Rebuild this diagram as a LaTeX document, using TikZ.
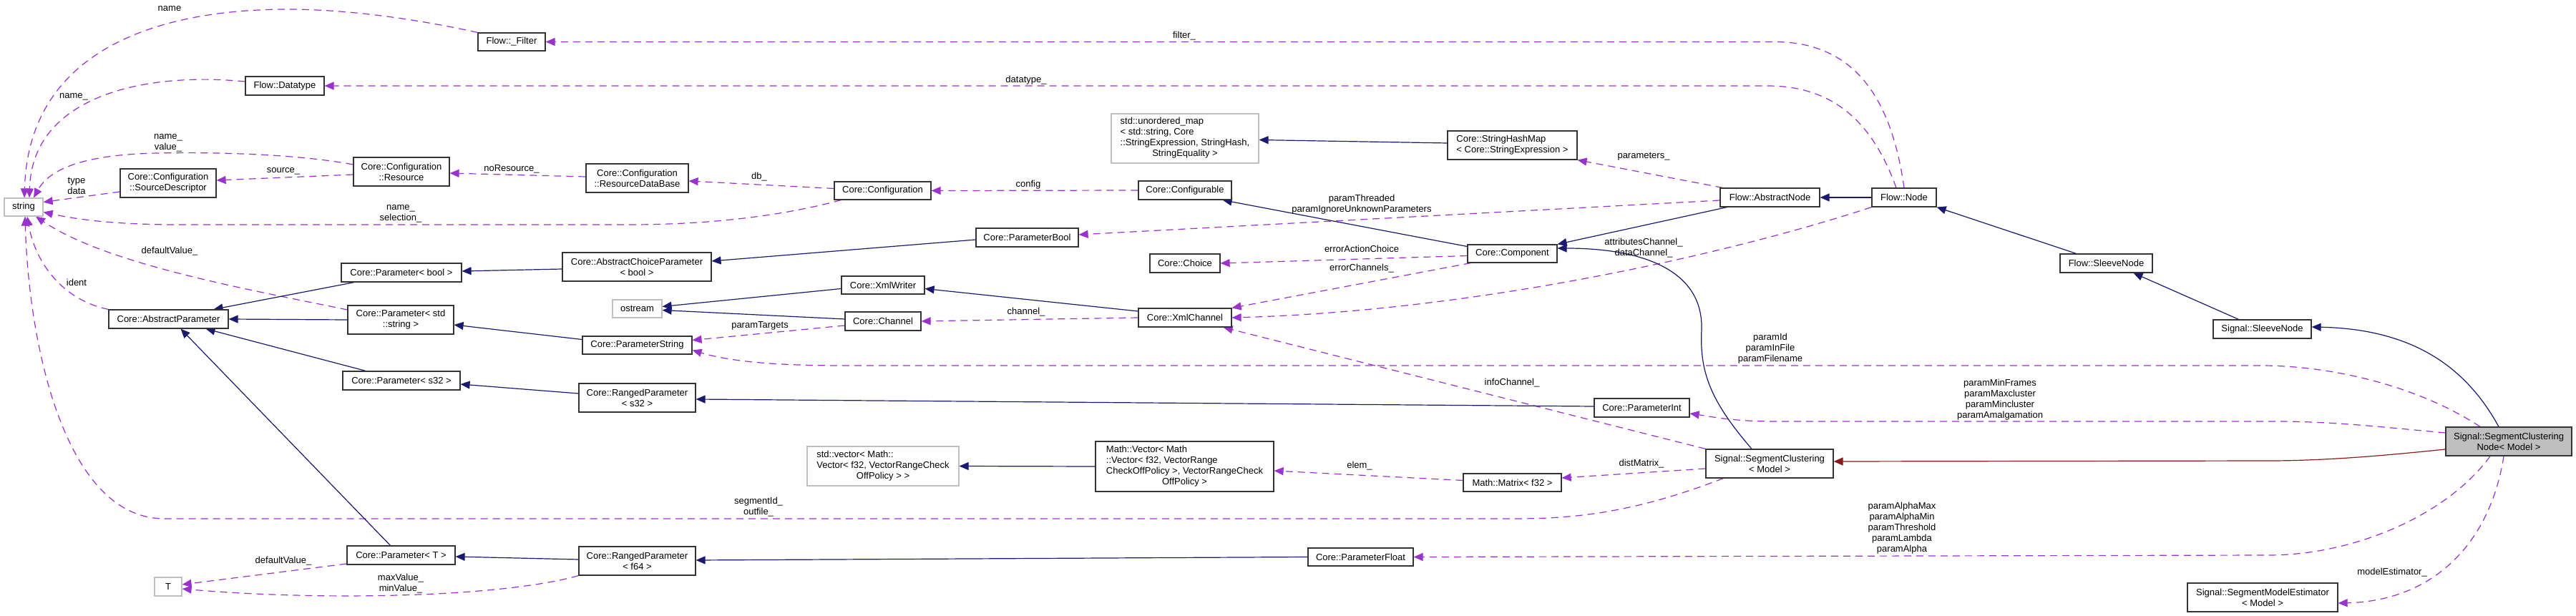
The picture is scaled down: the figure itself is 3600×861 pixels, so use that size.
\documentclass[tikz,border=0pt]{standalone}
\usepackage{fontspec}
\setmainfont{Liberation Sans}
\usetikzlibrary{arrows.meta}
\definecolor{navyc}{HTML}{191970}
\definecolor{orch}{HTML}{9A32CD}
\definecolor{fireb}{HTML}{8B1A1A}
\definecolor{lgray}{HTML}{BFBFBF}
\newcommand{\dfont}{\fontsize{13pt}{15pt}\selectfont}
\pgfdeclarelayer{bglayer}
\pgfdeclarelayer{edgelayer}
\pgfsetlayers{bglayer,edgelayer,main}
\tikzset{
  cbox/.style={rectangle, draw=black!80, line width=1.2pt, fill=white, inner sep=0pt, align=center, font=\dfont},
  gbox/.style={cbox, draw=lgray},
  sz/.style 2 args={minimum width=#1pt, minimum height=#2pt},
  inh/.style={draw=navyc, line width=1.2pt, -{Triangle[length=13pt,width=11pt]}},
  usedge/.style={draw=orch, line width=1.2pt, dash pattern=on 10pt off 7pt, -{Triangle[length=13pt,width=11pt]}},
  priv/.style={draw=fireb, line width=1.2pt, -{Triangle[length=13pt,width=11pt]}},
  lbl/.style={inner sep=0pt, align=center, font=\dfont},
}
\begin{document}
\begin{tikzpicture}[x=1pt,y=-1pt]
\begin{pgfonlayer}{bglayer}
\fill[white] (0,0) rectangle (3600,861);
\end{pgfonlayer}
\useasboundingbox (0,0) rectangle (3600,861);

% ---------------- nodes ----------------
\node[gbox, sz={54}{25}] (str) at (33,289.5) {string};
\node[cbox, sz={94}{25}] (filt) at (715,58.5) {Flow::\_Filter};
\node[cbox, sz={110}{26}] (dtype) at (398,120) {Flow::Datatype};
\node[cbox, sz={134}{40}] (res) at (561,240) {Core::Configuration\\::Resource};
\node[cbox, sz={134}{40}] (srcd) at (235,256) {Core::Configuration\\::SourceDescriptor};
\node[cbox, sz={143}{40}] (rdb) at (890.5,249) {Core::Configuration\\::ResourceDataBase};
\node[cbox, sz={135}{25}] (conf) at (1233.5,266.5) {Core::Configuration};
\node[cbox, sz={130}{26}] (cfgb) at (1656,266) {Core::Configurable};
\node[gbox, sz={206}{69}] (umap) at (1656,193.5) {\begin{tabular}{@{}l@{}}std::unordered\_map\\< std::string, Core\\::StringExpression, StringHash,\\\multicolumn{1}{@{}c@{}}{StringEquality >}\end{tabular}};
\node[cbox, sz={181}{40}, align=left] (shm) at (2113.5,203) {Core::StringHashMap\\< Core::StringExpression >};
\node[cbox, sz={139}{26}] (anode) at (2473.5,276) {Flow::AbstractNode};
\node[cbox, sz={90}{26}] (fnode) at (2661,276) {Flow::Node};
\node[cbox, sz={129}{26}] (fsleeve) at (2943.5,368) {Flow::SleeveNode};
\node[cbox, sz={137}{26}] (ssleeve) at (3161.5,460) {Signal::SleeveNode};
\node[cbox, sz={176}{40}, fill=lgray] (scn) at (3506,617) {Signal::SegmentClustering\\Node< Model >};
\node[cbox, sz={210}{40}] (sme) at (3162,835) {Signal::SegmentModelEstimator\\< Model >};
\node[cbox, sz={178}{40}] (sc) at (2473,648) {Signal::SegmentClustering\\< Model >};
\node[cbox, sz={137}{25}] (mtx) at (2113.5,674.5) {Math::Matrix< f32 >};
\node[cbox, sz={133}{26}] (pint) at (2294.5,570) {Core::ParameterInt};
\node[cbox, sz={147}{25}] (pfloat) at (1901.5,778.5) {Core::ParameterFloat};
\node[cbox, sz={125}{25}] (comp) at (2113.5,354.5) {Core::Component};
\node[cbox, sz={143}{26}] (pbool) at (1435.5,332) {Core::ParameterBool};
\node[cbox, sz={98}{26}] (choice) at (1656,368) {Core::Choice};
\node[cbox, sz={116}{25}] (xw) at (1234,398.5) {Core::XmlWriter};
\node[cbox, sz={130}{26}] (xc) at (1656,444) {Core::XmlChannel};
\node[cbox, sz={106}{26}] (chan) at (1234,449) {Core::Channel};
\node[gbox, sz={69}{25}] (ostr) at (890.5,431.5) {ostream};
\node[cbox, sz={208}{40}] (acp) at (890,373) {Core::AbstractChoiceParameter\\< bool >};
\node[cbox, sz={168}{26}] (pbt) at (561,381) {Core::Parameter< bool >};
\node[cbox, sz={148}{40}] (pss) at (560,447) {Core::Parameter< std\\::string >};
\node[cbox, sz={153}{25}] (pstring) at (890.5,482.5) {Core::ParameterString};
\node[cbox, sz={167}{26}] (absp) at (235.5,446) {Core::AbstractParameter};
\node[cbox, sz={164}{26}] (ps32) at (561,532) {Core::Parameter< s32 >};
\node[cbox, sz={163}{40}] (rp32) at (890.5,556) {Core::RangedParameter\\< s32 >};
\node[gbox, sz={212}{55}] (svec) at (1234,651.5) {\begin{tabular}{@{}l@{}}std::vector< Math::\\Vector< f32, VectorRangeCheck\\\multicolumn{1}{@{}c@{}}{OffPolicy > >}\end{tabular}};
\node[cbox, sz={249}{70}] (mvec) at (1655.5,652) {\begin{tabular}{@{}l@{}}Math::Vector< Math\\::Vector< f32, VectorRange\\CheckOffPolicy >, VectorRangeCheck\\\multicolumn{1}{@{}c@{}}{OffPolicy >}\end{tabular}};
\node[cbox, sz={151}{26}] (pT) at (560.5,776) {Core::Parameter< T >};
\node[cbox, sz={163}{40}] (rpf64) at (890.5,784) {Core::RangedParameter\\< f64 >};
\node[gbox, sz={38}{26}] (tT) at (235,820) {T};

% ---------------- labels ----------------
\node[lbl] (la) at (237,12) {name};
\node[lbl] (lb) at (103,135) {name\_};
\node[lbl] (lc) at (235,200) {name\_\\value\_};
\node[lbl] (ld) at (107,259.5) {type\\data};
\node[lbl] (le) at (396,239) {source\_};
\node[lbl] (lf) at (715,236) {noResource\_};
\node[lbl] (lg) at (1061,247) {db\_};
\node[lbl] (lh) at (560,299) {name\_\\selection\_};
\node[lbl] (li) at (1437,258) {config};
\node[lbl] (lj) at (1655,50) {filter\_};
\node[lbl] (lk) at (1434,112) {datatype\_};
\node[lbl] (ll) at (2297,219) {parameters\_};
\node[lbl] (lm) at (1903,285.5) {paramThreaded\\paramIgnoreUnknownParameters};
\node[lbl] (ln) at (1903,348) {errorActionChoice};
\node[lbl] (lo) at (1903,375) {errorChannels\_};
\node[lbl] (lp) at (2297,347) {attributesChannel\_\\dataChannel\_};
\node[lbl] (lq) at (1434,436) {channel\_};
\node[lbl] (lr) at (1062,455) {paramTargets};
\node[lbl] (ls) at (2474,487) {paramId\\paramInFile\\paramFilename};
\node[lbl] (lt) at (2795,559) {paramMinFrames\\paramMaxcluster\\paramMincluster\\paramAmalgamation};
\node[lbl] (lu) at (2658,738) {paramAlphaMax\\paramAlphaMin\\paramThreshold\\paramLambda\\paramAlpha};
\node[lbl] (lv) at (3343,800) {modelEstimator\_};
\node[lbl] (lw) at (2113,535) {infoChannel\_};
\node[lbl] (lx) at (2294,648) {distMatrix\_};
\node[lbl] (ly) at (1900,651) {elem\_};
\node[lbl] (lz) at (1060,709) {segmentId\_\\outfile\_};
\node[lbl] (laa) at (237,351) {defaultValue\_};
\node[lbl] (lbb) at (107,395) {ident};
\node[lbl] (lcc) at (396,784) {defaultValue\_};
\node[lbl] (ldd) at (560,816) {maxValue\_\\minValue\_};

% ---------------- edges ----------------
\begin{pgfonlayer}{edgelayer}
% usage (dashed)
\draw[usedge] (filt.north west) .. controls (560,22) and (470,13) .. (402,13) .. controls (220,13) and (40,70) .. ([xshift=1pt]str.north);
\draw[usedge] ([yshift=6pt]dtype.west) .. controls (200,100) and (45,135) .. ([xshift=8pt]str.north);
\draw[usedge] ([yshift=10pt]res.west) .. controls (430,218) and (330,212) .. (220,214) .. controls (120,216) and (70,235) .. ([xshift=14pt]str.north);
\draw[usedge] ([yshift=-12pt]srcd.west) -- ([yshift=7pt]str.east);
\draw[usedge] ([yshift=-4pt]res.west) -- ([yshift=4pt]srcd.east);
\draw[usedge] ([yshift=2pt]rdb.west) -- ([yshift=-2pt]res.east);
\draw[usedge] ([yshift=3pt]conf.west) -- ([yshift=-4pt]rdb.east);
\draw[usedge] ([xshift=10pt]conf.south west) .. controls (1100,300) and (1000,314) .. (880,314) -- (250,314) .. controls (150,314) and (100,305) .. ([yshift=-7pt]str.east);
\draw[usedge] (cfgb.west) -- (conf.east);
\draw[usedge] (fnode.north) .. controls (2645,150) and (2600,58.5) .. (2480,58.5) -- (filt.east);
\draw[usedge] ([xshift=-11pt]fnode.north) .. controls (2620,180) and (2570,120) .. (2470,120) -- (dtype.east);
\draw[usedge] ([xshift=4pt]anode.north west) -- (shm.south east);
\draw[usedge] ([yshift=-4pt]anode.west) -- ([yshift=4pt]pbool.east);
\draw[usedge] ([yshift=-3pt]comp.west) -- (choice.east);
\draw[usedge] ([xshift=5pt]comp.south west) -- (xc.north east);
\draw[usedge] (fnode.south west) .. controls (2400,360) and (2050,435) .. (xc.east);
\draw[usedge] (xc.west) -- (chan.east);
\draw[usedge] ([yshift=-6pt]chan.west) -- ([yshift=7pt]pstring.east);
\draw[usedge] ([xshift=-40pt]scn.north) .. controls (3380,540) and (3260,511) .. (3160,511) -- (1180,511) .. controls (1080,511) and (1020,505) .. ([yshift=-7pt]pstring.east);
\draw[usedge] ([yshift=12pt]scn.west) .. controls (3330,597) and (3260,589) .. (3180,589) -- (2480,589) .. controls (2420,589) and (2390,582) .. ([yshift=-8pt]pint.east);
\draw[usedge] ([xshift=-26pt]scn.south) .. controls (3420,720) and (3290,776) .. (3170,776) -- (pfloat.east);
\draw[usedge] ([xshift=-7pt]scn.south) .. controls (3480,760) and (3400,840) .. ([yshift=-8pt]sme.east);
\draw[usedge] (sc.north west) -- ([xshift=-12pt]xc.south east);
\draw[usedge] ([yshift=-7pt]sc.west) -- ([yshift=6.5pt]mtx.east);
\draw[usedge] ([yshift=3pt]mtx.west) -- ([yshift=-6pt]mvec.east);
\draw[usedge] ([xshift=25pt]sc.south west) .. controls (2300,710) and (2220,725) .. (2120,725) -- (230,725) .. controls (90,725) and (40,480) .. ([xshift=2pt]str.south);
\draw[usedge] ([yshift=14pt]pss.west) .. controls (350,405) and (150,370) .. ([xshift=17pt]str.south);
\draw[usedge] (absp.north west) .. controls (90,420) and (50,370) .. ([xshift=5pt]str.south);
\draw[usedge] ([yshift=-12pt]pT.west) -- ([yshift=3pt]tT.east);
\draw[usedge] (rpf64.south west) .. controls (700,835) and (450,840) .. ([yshift=-3pt]tT.east);
% inheritance (solid)
\draw[inh] ([xshift=-66pt]pbt.south) -- ([xshift=-21pt]absp.north east);
\draw[inh] (pss.west) -- (absp.east);
\draw[inh] ([xshift=-50pt]ps32.north) -- ([xshift=-32pt]absp.south east);
\draw[inh] ([xshift=-15pt]pT.north) -- ([xshift=17pt]absp.south);
\draw[inh] ([yshift=-3pt]acp.west) -- ([yshift=2pt]pbt.east);
\draw[inh] ([yshift=-3pt]pbool.west) -- ([yshift=8pt]acp.east);
\draw[inh] ([yshift=8pt]pstring.west) -- ([yshift=-7pt]pss.east);
\draw[inh] ([yshift=6pt]rp32.west) -- ([yshift=-5pt]ps32.east);
\draw[inh] ([yshift=2pt]pint.west) -- ([yshift=-2pt]rp32.east);
\draw[inh] ([yshift=2pt]rpf64.west) -- ([yshift=-2pt]pT.east);
\draw[inh] (pfloat.west) -- ([yshift=1pt]rpf64.east);
\draw[inh] ([yshift=-5pt]xw.west) -- ([yshift=3pt]ostr.east);
\draw[inh] ([yshift=3pt]chan.west) -- ([yshift=-2pt]ostr.east);
\draw[inh] ([yshift=9pt]xc.west) -- ([yshift=-5pt]xw.east);
\draw[inh] ([yshift=10pt]comp.west) -- ([xshift=-13pt]cfgb.south east);
\draw[inh] ([xshift=10pt]anode.south west) -- (comp.north east);
\draw[inh] ([xshift=-25pt]sc.north) .. controls (2390,560) and (2375,520) .. (2378,460) .. controls (2380,380) and (2300,347) .. ([yshift=7.5pt]comp.east);
\draw[inh] ([yshift=3pt]shm.west) -- ([yshift=-2pt]umap.east);
\draw[inh] (fnode.west) -- (anode.east);
\draw[inh] ([xshift=-42pt]fsleeve.north) -- (fnode.south east);
\draw[inh] ([xshift=-33pt]ssleeve.north) -- ([xshift=38pt]fsleeve.south);
\draw[inh] ([xshift=-14pt]scn.north) .. controls (3450,520) and (3380,460) .. ([yshift=3pt]ssleeve.east);
\draw[inh] (mvec.west) -- (svec.east);
% private inheritance
\draw[priv] ([yshift=-11pt]scn.west) .. controls (3330,637) and (3250,644) .. (3170,644) -- ([yshift=3pt]sc.east);
\end{pgfonlayer}
\end{tikzpicture}
\end{document}
